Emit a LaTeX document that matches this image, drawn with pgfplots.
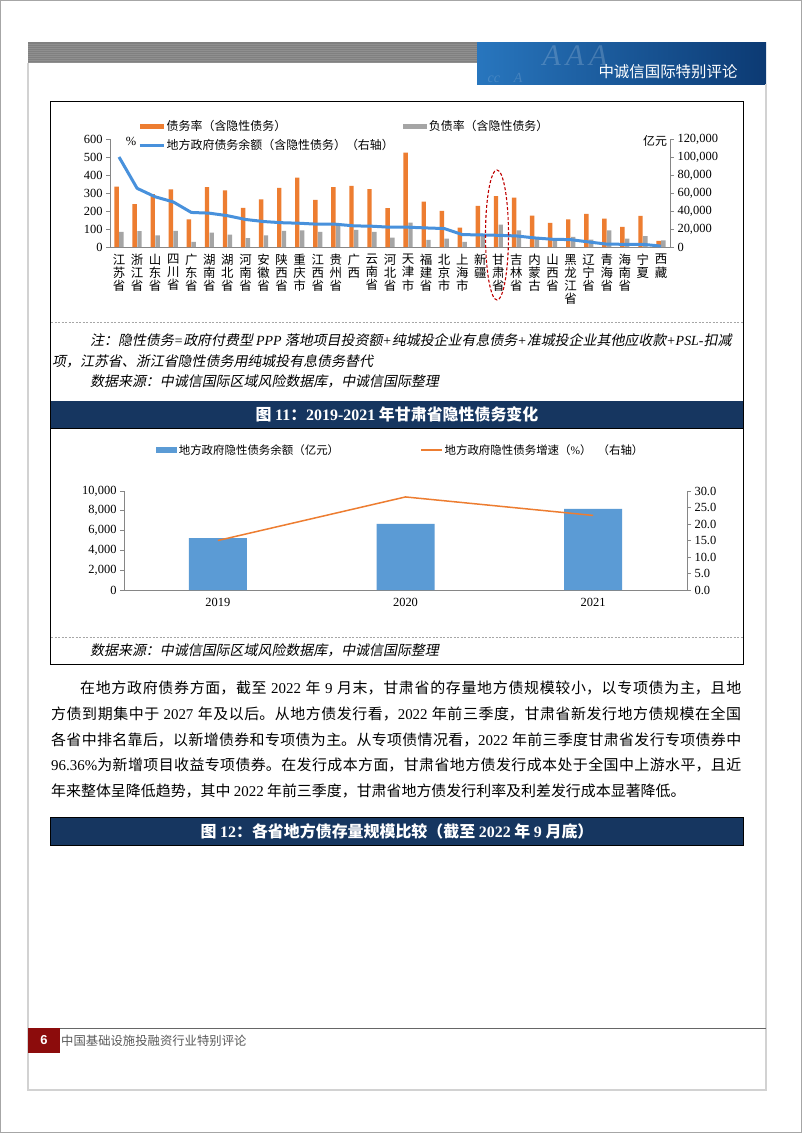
\documentclass[border=0pt]{standalone}
\usepackage{fontspec}
\usepackage{pgfplots}
\pgfplotsset{compat=1.18}
\setmainfont{Noto Sans CJK SC}
\newfontfamily\tnr{Liberation Serif}
\newfontfamily\arial{Liberation Sans}
\newfontfamily\cjkit{Noto Sans CJK SC}[FakeSlant=0.2]
\newcommand\fs[1]{\fontsize{#1}{#1}\selectfont}
\XeTeXlinebreaklocale "zh"
\XeTeXlinebreakskip=0pt plus 1pt
\definecolor{orC}{RGB}{237,125,49}
\definecolor{grC}{RGB}{165,165,165}
\definecolor{blC}{RGB}{72,145,220}
\definecolor{blT}{RGB}{91,155,213}
\definecolor{navy}{RGB}{22,54,96}
\definecolor{axg}{RGB}{134,134,134}
\definecolor{redbox}{RGB}{140,12,12}
\definecolor{bandgray}{RGB}{128,128,128}
\begin{document}
\begin{tikzpicture}[x=1bp,y=-1bp]
\useasboundingbox (0,0) rectangle (802,1133);
\fill[white] (0,0) rectangle (802,1133);
\draw[gray!70, line width=1bp] (0.5,0.5) rectangle (801.5,1132.5);
% header
\fill[bandgray] (28,42) rectangle (478,63);
\foreach \yy in {44,46,...,62} {\draw[white, opacity=0.12, line width=0.5bp] (28,\yy) -- (478,\yy);}
\shade[left color={rgb,255:red,40;green,118;blue,190}, right color={rgb,255:red,12;green,58;blue,115}] (477,42) rectangle (766,84);
\node[text=white, opacity=0.18, font=\tnr\itshape\fs{30}] at (575,56) {A\,A\,A};
\node[text=white, opacity=0.15, font=\tnr\itshape\fs{14}] at (505,78) {cc\quad A};
\node[text=white, font=\fs{15.5}, anchor=east] at (741,72) {中诚信国际特别评论};
% page frame
\draw[gray!35, line width=1.5bp] (28,63) -- (28,1090) -- (766,1090) -- (766,84);
% footer
\draw[gray!80!black, line width=1bp] (28,1028) -- (766,1028);
\fill[redbox] (28,1028) rectangle (60,1053);
\node[text=white, font=\arial\bfseries\fs{13}] at (44,1040) {6};
\node[text=black!65, font=\fs{12.4}, anchor=west, inner sep=0] at (61,1041) {中国基础设施投融资行业特别评论};
% box 1
\draw[black, line width=0.8bp] (50.5,101) rectangle (743,428);
\draw[gray!70, dash pattern=on 2bp off 1.5bp, line width=0.7bp] (51,322) -- (743,322);
\node[anchor=base west, inner sep=0, font=\cjkit\fs{14}] at (90,345.5) {注：隐性债务{\tnr\itshape =}政府付费型 {\tnr\itshape PPP} 落地项目投资额{\tnr\itshape +}纯城投企业有息债务{\tnr\itshape +}准城投企业其他应收款{\tnr\itshape +PSL-}扣减};
\node[anchor=base west, inner sep=0, font=\cjkit\fs{14}] at (52,366) {项，江苏省、浙江省隐性债务用纯城投有息债务替代};
\node[anchor=base west, inner sep=0, font=\cjkit\fs{14}] at (90,386.5) {数据来源：中诚信国际区域风险数据库，中诚信国际整理};
\fill[navy] (51,401) rectangle (743,428);
\node[text=white, font=\bfseries\fs{16}] at (397,414.5) {图 {\tnr\bfseries 11}：{\tnr\bfseries 2019-2021} 年甘肃省隐性债务变化};
% box 2
\draw[black, line width=0.8bp] (50.5,428) rectangle (743,664);
\draw[gray!70, dash pattern=on 2bp off 1.5bp, line width=0.7bp] (51,637) -- (743,637);
\node[anchor=base west, inner sep=0, font=\cjkit\fs{14}] at (90,655.5) {数据来源：中诚信国际区域风险数据库，中诚信国际整理};
% body paragraph
\node[anchor=north west, inner sep=0, text width=690bp, align=justify, font=\fs{15}] at (51,681) {\baselineskip=25.6bp\hspace*{29bp}在地方政府债券方面，截至 {\tnr 2022} 年 {\tnr 9} 月末，甘肃省的存量地方债规模较小，以专项债为主，且地\linebreak 方债到期集中于 {\tnr 2027} 年及以后。从地方债发行看，{\tnr 2022} 年前三季度，甘肃省新发行地方债规模在全国\linebreak 各省中排名靠后，以新增债券和专项债为主。从专项债情况看，{\tnr 2022} 年前三季度甘肃省发行专项债券中\linebreak {\tnr 96.36\%}为新增项目收益专项债券。在发行成本方面，甘肃省地方债发行成本处于全国中上游水平，且近\linebreak 年来整体呈降低趋势，其中 {\tnr 2022} 年前三季度，甘肃省地方债发行利率及利差发行成本显著降低。\par};
% title 12
\fill[navy] (51,817) rectangle (743,845);
\draw[black, line width=0.6bp] (50.5,817) rectangle (743,845);
\node[text=white, font=\bfseries\fs{16}] at (397,831) {图 {\tnr\bfseries 12}：各省地方债存量规模比较（截至 {\tnr\bfseries 2022} 年 {\tnr\bfseries 9} 月底）};

% ---------------- chart 1 ----------------
\begin{axis}[
  at={(110bp,-247bp)}, anchor=south west, scale only axis,
  width=560bp, height=108bp,
  xmin=-0.5, xmax=30.5, ymin=0, ymax=600,
  ybar=0.4bp, bar width=4.4bp,
  axis x line*=bottom, axis y line*=left,
  axis line style={-, axg, line width=0.8bp},
  ytick={0,100,...,600},
  xtick={0,...,30},
  xticklabels={{江\\苏\\省},{浙\\江\\省},{山\\东\\省},{四\\川\\省},{广\\东\\省},{湖\\南\\省},{湖\\北\\省},{河\\南\\省},{安\\徽\\省},{陕\\西\\省},{重\\庆\\市},{江\\西\\省},{贵\\州\\省},{广\\西},{云\\南\\省},{河\\北\\省},{天\\津\\市},{福\\建\\省},{北\\京\\市},{上\\海\\市},{新\\疆},{甘\\肃\\省},{吉\\林\\省},{内\\蒙\\古},{山\\西\\省},{黑\\龙\\江\\省},{辽\\宁\\省},{青\\海\\省},{海\\南\\省},{宁\\夏},{西\\藏}},
  tick align=outside, major tick length=4bp,
  ytick style={axg, line width=0.8bp}, xtick style={draw=none},
  yticklabel style={font=\tnr\fs{12.5}, /pgf/number format/assume math mode=true},
  xticklabel style={font=\fontsize{12.5}{13.2}\selectfont, align=center, anchor=north, inner sep=3bp},
  legend columns=2, legend cell align=left,
  legend style={at={(0.05,1.19)}, anchor=north west, draw=none, fill=none, font=\fs{12}, inner sep=0pt, row sep=4.5bp, nodes={inner sep=1.5bp}, /tikz/every even column/.append style={column sep=8bp}},
]
\addplot[fill=orC, draw=none, legend image code/.code={\fill[orC] (0bp,-2.5bp) rectangle (24bp,2.5bp);}] coordinates {(0,335)(1,238)(2,294)(3,320)(4,153)(5,333)(6,315)(7,218)(8,265)(9,328)(10,386)(11,262)(12,333)(13,339)(14,322)(15,216)(16,525)(17,252)(18,201)(19,107)(20,229)(21,283)(22,274)(23,175)(24,134)(25,153)(26,184)(27,158)(28,112)(29,173)(30,34)};
\addlegendentry{债务率（含隐性债务）}
\addplot[fill=grC, draw=none, legend image code/.code={\fill[grC] (0bp,-2.5bp) rectangle (24bp,2.5bp);}] coordinates {(0,84)(1,88)(2,65)(3,89)(4,28)(5,80)(6,69)(7,50)(8,65)(9,89)(10,92)(11,84)(12,121)(13,95)(14,84)(15,52)(16,136)(17,39)(18,47)(19,28)(20,75)(21,125)(22,93)(23,47)(24,32)(25,56)(26,41)(27,93)(28,47)(29,60)(30,37)};
\addlegendentry{负债率（含隐性债务）}
\addlegendimage{legend image code/.code={\draw[blC, line width=3bp] (0bp,0bp) -- (24bp,0bp);}}
\addlegendentry{地方政府债务余额（含隐性债务）（右轴）}
\end{axis}
\begin{axis}[
  at={(110bp,-247bp)}, anchor=south west, scale only axis,
  width=560bp, height=108bp,
  xmin=-0.5, xmax=30.5, ymin=0, ymax=120000,
  axis y line*=right, axis x line=none,
  axis line style={-, axg, line width=0.8bp},
  ytick={0,20000,...,120000}, scaled y ticks=false,
  tick align=outside, major tick length=4bp, ytick style={axg, line width=0.8bp},
  yticklabel style={font=\tnr\fs{12.5}, /pgf/number format/.cd, fixed, 1000 sep={,}, assume math mode=true},
]
\addplot[blC, line width=3bp, mark=none, line join=round] coordinates {(0,100000)(1,65200)(2,55800)(3,50100)(4,38400)(5,37600)(6,34800)(7,30600)(8,28300)(9,27000)(10,26400)(11,25300)(12,25300)(13,23500)(14,23100)(15,22000)(16,22000)(17,21200)(18,20500)(19,13800)(20,13400)(21,13000)(22,12300)(23,10100)(24,8600)(25,8200)(26,5600)(27,3200)(28,3000)(29,3000)(30,1000)};
\end{axis}
\node[font=\tnr\fs{12.5}] at (131,141) {\%};
\node[font=\fs{12}] at (655,141) {亿元};
\draw[red!75!black, line width=1.1bp, dash pattern=on 3bp off 2bp] (497,235) ellipse [x radius=11.5bp, y radius=65bp];

% ---------------- chart 2 ----------------
\begin{axis}[
  at={(124bp,-590bp)}, anchor=south west, scale only axis,
  width=563bp, height=99bp,
  xmin=-0.5, xmax=2.5, ymin=0, ymax=10000,
  ybar, bar width=58bp,
  axis x line*=bottom, axis y line*=left,
  axis line style={-, axg, line width=0.8bp},
  ytick={0,2000,...,10000}, scaled y ticks=false,
  xtick={0,1,2}, xticklabels={2019,2020,2021},
  tick align=outside, major tick length=4bp,
  ytick style={axg, line width=0.8bp}, xtick style={draw=none},
  yticklabel style={font=\tnr\fs{12.5}, /pgf/number format/.cd, fixed, 1000 sep={,}, assume math mode=true},
  xticklabel style={font=\tnr\fs{12.5}, inner sep=4bp},
  legend columns=2, legend cell align=left,
  legend style={at={(0.057,1.414)}, anchor=west, draw=none, fill=none, font=\fs{11.5}, inner sep=0pt, nodes={inner sep=1.5bp}, /tikz/every even column/.append style={column sep=80bp}},
]
\addplot[fill=blT, draw=none, legend image code/.code={\fill[blT] (0bp,-3bp) rectangle (21bp,3bp);}] coordinates {(0,5230)(1,6670)(2,8200)};
\addlegendentry{地方政府隐性债务余额（亿元）}
\addlegendimage{legend image code/.code={\draw[orC, line width=1.4bp] (0bp,0bp) -- (21bp,0bp);}}
\addlegendentry{地方政府隐性债务增速（{\tnr\%}）\hspace{6bp}（右轴）}
\end{axis}
\begin{axis}[
  at={(124bp,-590bp)}, anchor=south west, scale only axis,
  width=563bp, height=99bp,
  xmin=-0.5, xmax=2.5, ymin=0, ymax=30,
  axis y line*=right, axis x line=none,
  axis line style={-, axg, line width=0.8bp},
  ytick={0,5,...,30},
  tick align=outside, major tick length=4bp, ytick style={axg, line width=0.8bp},
  yticklabel style={font=\tnr\fs{12.5}, /pgf/number format/.cd, fixed, fixed zerofill, precision=1, assume math mode=true},
]
\addplot[orC, line width=1.5bp, mark=none] coordinates {(0,15.0)(1,28.2)(2,22.6)};
\end{axis}
\end{tikzpicture}
\end{document}
